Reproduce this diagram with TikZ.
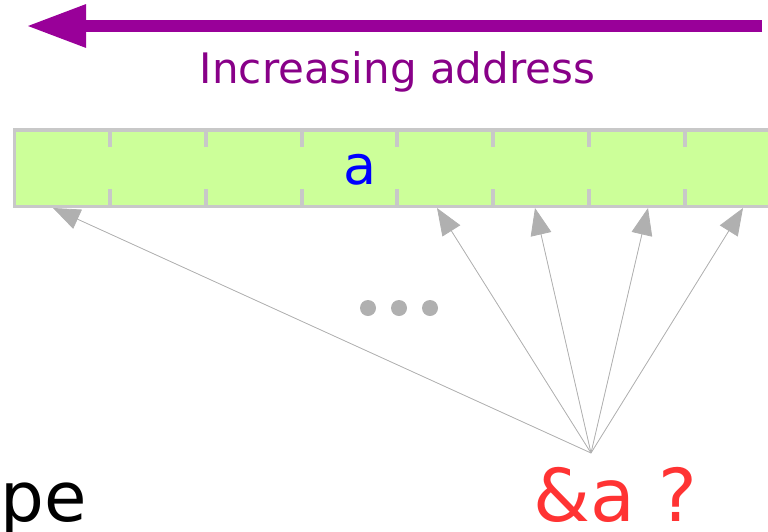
\documentclass[tikz,border=0pt]{standalone}
\usepackage{fontspec}
\setmainfont{DejaVu Sans}
\usetikzlibrary{arrows.meta}
\definecolor{arrowpurple}{HTML}{990099}
\definecolor{textpurple}{HTML}{880088}
\definecolor{cellgreen}{HTML}{CCFF99}
\definecolor{cellborder}{HTML}{C8C8C8}
\definecolor{ptrgray}{HTML}{B0B0B0}
\definecolor{qred}{HTML}{FF3333}
\tikzset{
  cellbar/.style={fill=cellgreen, draw=cellborder, line width=3.3pt},
  celltick/.style={draw=cellborder, line width=3.3pt},
  ptr/.style={draw=ptrgray, line width=0.8pt, -{Triangle[length=27pt,width=21pt]}, fill=ptrgray},
  dotmark/.style={circle, fill=ptrgray, minimum size=16pt, inner sep=0pt},
  bigtext/.style={inner sep=0pt, font=\fontsize{73}{80}\selectfont},
}
\begin{document}
\begin{tikzpicture}[x=1pt, y=-1pt]
\useasboundingbox (0,0) rectangle (768,531);
\clip (0,0) rectangle (768,531);
% address arrow
\coordinate (arrR) at (762,26);
\coordinate (arrL) at (26,26);
\draw[arrowpurple, line width=12pt, -{Triangle[length=60pt,width=40pt]}] (arrR) -- (arrL);
\node[inner sep=0pt, anchor=base, text=textpurple, font=\fontsize{42}{50}\selectfont] (inc) at (397.5,83) {Increasing address};
% cell bar
\path[cellbar] (14.5,130) rectangle (782,206.5);
\foreach \x in {110,206,302,397,493,589,685}{
  \draw[celltick] (\x,130) -- (\x,147);
  \draw[celltick] (\x,189) -- (\x,206.5);
}
\node[inner sep=0pt, anchor=base, text=blue, font=\fontsize{54}{60}\selectfont] (va) at (360.5,184) {a};
% pointer targets
\coordinate (src) at (591,453);
\coordinate (t1) at (53,208);
\coordinate (t2) at (437,208);
\coordinate (t3) at (535,208);
\coordinate (t4) at (648,208);
\coordinate (t5) at (743,208);
\foreach \t in {t1,t2,t3,t4,t5}{
  \draw[ptr] (src) -- (\t);
}
% dots
\node[dotmark] (d1) at (368,308) {};
\node[dotmark] (d2) at (399,308) {};
\node[dotmark] (d3) at (430,308) {};
% bottom texts
\node[bigtext, anchor=base west, font=\fontsize{69}{76}\selectfont] (pe) at (0.5,521) {pe};
\node[bigtext, anchor=base west, text=qred] (amp) at (533,521) {\&a ?};
\end{tikzpicture}
\end{document}
